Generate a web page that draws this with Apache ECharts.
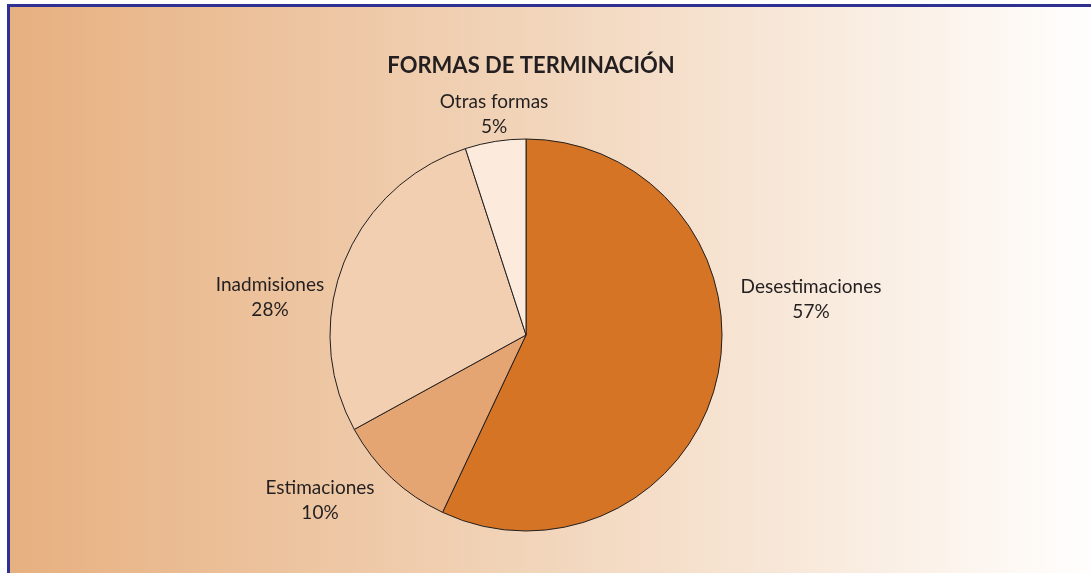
<!DOCTYPE html>
<html><head><meta charset="utf-8">
<script src="https://cdn.jsdelivr.net/npm/echarts@6/dist/echarts.min.js"></script>
<style>html,body{margin:0;padding:0;background:#fff}#c{width:1091px;height:573px}</style>
</head><body><div id="c"></div>
<script>
var categories = ['Desestimaciones', 'Estimaciones', 'Inadmisiones', 'Otras formas'];
var values = [57, 10, 28, 5];
var colors = ['#d47424', '#e5a572', '#f2cfb0', '#fcebdd'];
// label offsets from pie centre (styling only)
var labelOffsets = [[285, -36], [-206, 165], [-256, -38], [-32, -221]];

var cx = 526, cy = 335;
var chart = echarts.init(document.getElementById('c'), null, {renderer: 'canvas'});
chart.setOption({
  animation: false,
  backgroundColor: '#ffffff',
  graphic: [
    {type: 'rect', shape: {x: 10, y: 7, width: 1081, height: 566}, z: -10,
      style: {fill: new echarts.graphic.LinearGradient(0, 0, 1, 0, [
        {offset: 0, color: '#e7b080'}, {offset: 0.5, color: '#f2d6bc'}, {offset: 1, color: '#fffefd'}])}},
    {type: 'rect', shape: {x: 7, y: 4, width: 1084, height: 3}, style: {fill: '#2e3192'}, z: -5},
    {type: 'rect', shape: {x: 7, y: 4, width: 3, height: 569}, style: {fill: '#2e3192'}, z: -5}
  ],
  title: {
    text: 'FORMAS DE TERMINACIÓN', left: cx, top: 50, textAlign: 'center',
    textStyle: {fontFamily: 'Lato', fontWeight: 'bold', fontSize: 22, color: '#231f20'}
  },
  series: [{
    type: 'pie',
    center: [cx, cy],
    radius: 196,
    startAngle: 90,
    clockwise: true,
    avoidLabelOverlap: false,
    itemStyle: {borderColor: '#231f20', borderWidth: 1},
    label: {
      show: true, position: 'outside', formatter: '{b}\n{c}%',
      fontFamily: 'Lato', fontSize: 19, lineHeight: 25, color: '#231f20', align: 'center'
    },
    labelLine: {show: false},
    labelLayout: function (p) {
      var o = labelOffsets[p.dataIndex];
      return {x: cx + o[0], y: cy + o[1], align: 'center', verticalAlign: 'middle'};
    },
    emphasis: {disabled: true},
    data: categories.map(function (n, i) {
      return {name: n, value: values[i], itemStyle: {color: colors[i]}};
    })
  }]
});
</script></body></html>
